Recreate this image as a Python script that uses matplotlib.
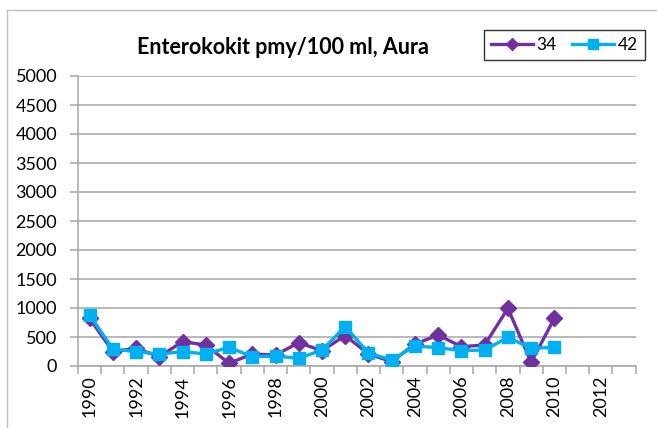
import matplotlib
matplotlib.use("Agg")
import matplotlib.pyplot as plt
from matplotlib.lines import Line2D
import numpy as np

plt.rcParams['font.family'] = ['Lato', 'DejaVu Sans']

# vuodet 1990-2013 (kategoria-akseli)
years = list(range(1990, 2014))
# havaintopaikka 34
s34 = [822, 247, 305, 161, 420, 362, 46, 207, 190, 402, 264, 525,
       207, 75, 379, 534, 333, 362, 994, 64, 822]
# havaintopaikka 42
s42 = [879, 293, 247, 207, 247, 207, 322, 161, 172, 132, 276, 678,
       224, 103, 345, 316, 264, 276, 494, 305, 322]
y_ticks = list(range(0, 5001, 500))

purple = '#7030A0'
blue = '#00B0F0'
grid_col = '#a6a6a6'

fig = plt.figure(figsize=(6.57, 4.28), dpi=100)
ax = fig.add_axes([78 / 657, 62 / 428, (635.7 - 78) / 657, 290 / 428])

x = np.arange(len(years))
ax.plot(x[:len(s34)], s34, color=purple, lw=2.4, marker='D', ms=8,
        markeredgecolor=purple, label='34', zorder=3)
ax.plot(x[:len(s42)], s42, color=blue, lw=2.4, marker='s', ms=8,
        markeredgecolor=blue, label='42', zorder=4)

ax.set_xlim(-0.5, len(years) - 0.5)
ax.set_ylim(0, 5000)
ax.set_yticks(y_ticks)
ax.set_yticklabels([str(v) for v in y_ticks], fontsize=13)
ax.yaxis.grid(True, color=grid_col, lw=1.1)
ax.set_axisbelow(True)

# tick-merkit kategorioiden väliin, nimet joka toiselle vuodelle
ax.set_xticks(np.arange(-0.5, len(years), 1.0))
ax.set_xticklabels([])
ax.set_xticks(x[::2], minor=True)
ax.set_xticklabels([str(y) for y in years[::2]], minor=True, rotation=90,
                   fontsize=13)
ax.tick_params(axis='x', which='major', length=6, color=grid_col, width=1.1)
ax.tick_params(axis='x', which='minor', length=0, pad=7)
ax.tick_params(axis='y', length=6, color=grid_col, width=1.1, pad=9)

for side in ['top', 'right']:
    ax.spines[side].set_visible(False)
for side in ['left', 'bottom']:
    ax.spines[side].set_color(grid_col)
    ax.spines[side].set_linewidth(1.1)

fig.text(283 / 657, 1 - 47 / 428, 'Enterokokit pmy/100 ml, Aura',
         fontsize=15.5, fontweight='bold', ha='center', va='center')

leg = fig.legend(handles=[
    Line2D([], [], color=purple, lw=2.4, marker='D', ms=6.5, label='34'),
    Line2D([], [], color=blue, lw=2.4, marker='s', ms=6.5, label='42')],
    ncol=2, loc='center', bbox_to_anchor=(564.5 / 657, 1 - 45 / 428),
    frameon=True, fancybox=False, edgecolor='black', fontsize=12.5,
    handlelength=2.4, handletextpad=0.2, columnspacing=0.9,
    borderpad=0.4)
leg.get_frame().set_linewidth(1.0)

# kaavion reunaviivat
fig.add_artist(Line2D([7 / 657, 7 / 657], [0, 1 - 10 / 428], color='#bfbfbf',
                      lw=1.0, transform=fig.transFigure))
fig.add_artist(Line2D([7 / 657, 1], [1 - 10 / 428, 1 - 10 / 428],
                      color='#bfbfbf', lw=1.0, transform=fig.transFigure))

fig.savefig('out.png', dpi=100)
